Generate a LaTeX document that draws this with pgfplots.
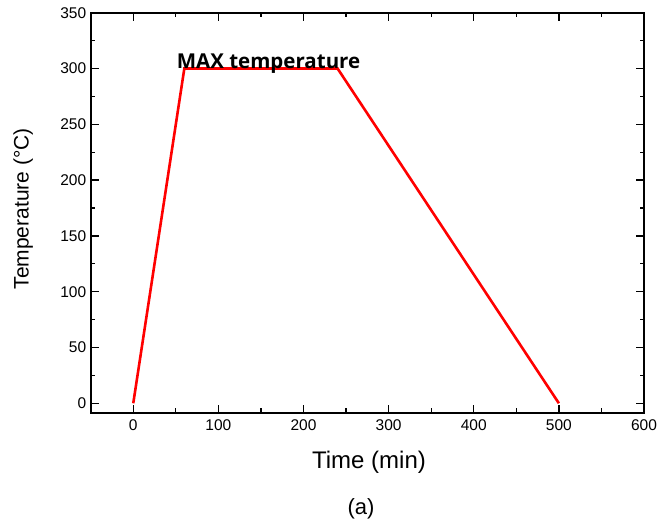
\documentclass[border=0pt]{standalone}
\usepackage{fontspec}
\setmainfont{Liberation Sans}
\newfontfamily\kfont{Open Sans}
\usepackage{pgfplots}
\pgfplotsset{compat=1.18}
\begin{document}
\begin{tikzpicture}
\path[use as bounding box] (0,0) rectangle (661pt,526pt);
\begin{axis}[
  at={(90.7pt,113pt)}, anchor=south west,
  width=553.3pt, height=400.3pt, scale only axis,
  xmin=-50, xmax=600, ymin=-8.7, ymax=350,
  xtick={0,100,...,600}, ytick={0,50,...,350},
  minor x tick num=1, minor y tick num=1,
  tick align=inside,
  major tick length=8pt, minor tick length=4.5pt,
  axis line style={line width=1.8pt},
  every tick/.style={black, line width=1.3pt},
  /pgf/number format/assume math mode=true,
  ticklabel style={font=\fontsize{15.5}{18}\selectfont},
  xticklabel style={yshift=-3pt},
  yticklabel style={xshift=-1pt},
  xlabel={Time (min)}, ylabel={Temperature (°C)},
  xlabel style={font=\fontsize{24}{28}\selectfont, at={(axis description cs:0.503,0)}, anchor=base, yshift=-56pt},
  ylabel style={font=\fontsize{21}{25}\selectfont, at={(axis description cs:-0.112,0.51)}, anchor=base},
]
\addplot[red, line width=2.6pt, line join=miter] coordinates {(0,0) (60,300) (240,300) (500,0)};
\node[anchor=base west, inner sep=0pt, font=\kfont\fontsize{20.5}{24}\selectfont\bfseries] at (axis cs:51,300) {MAX temperature};
\end{axis}
\node[anchor=base, inner sep=0pt, font=\fontsize{22}{26}\selectfont] at (361pt,11pt) {(a)};
\end{tikzpicture}
\end{document}
